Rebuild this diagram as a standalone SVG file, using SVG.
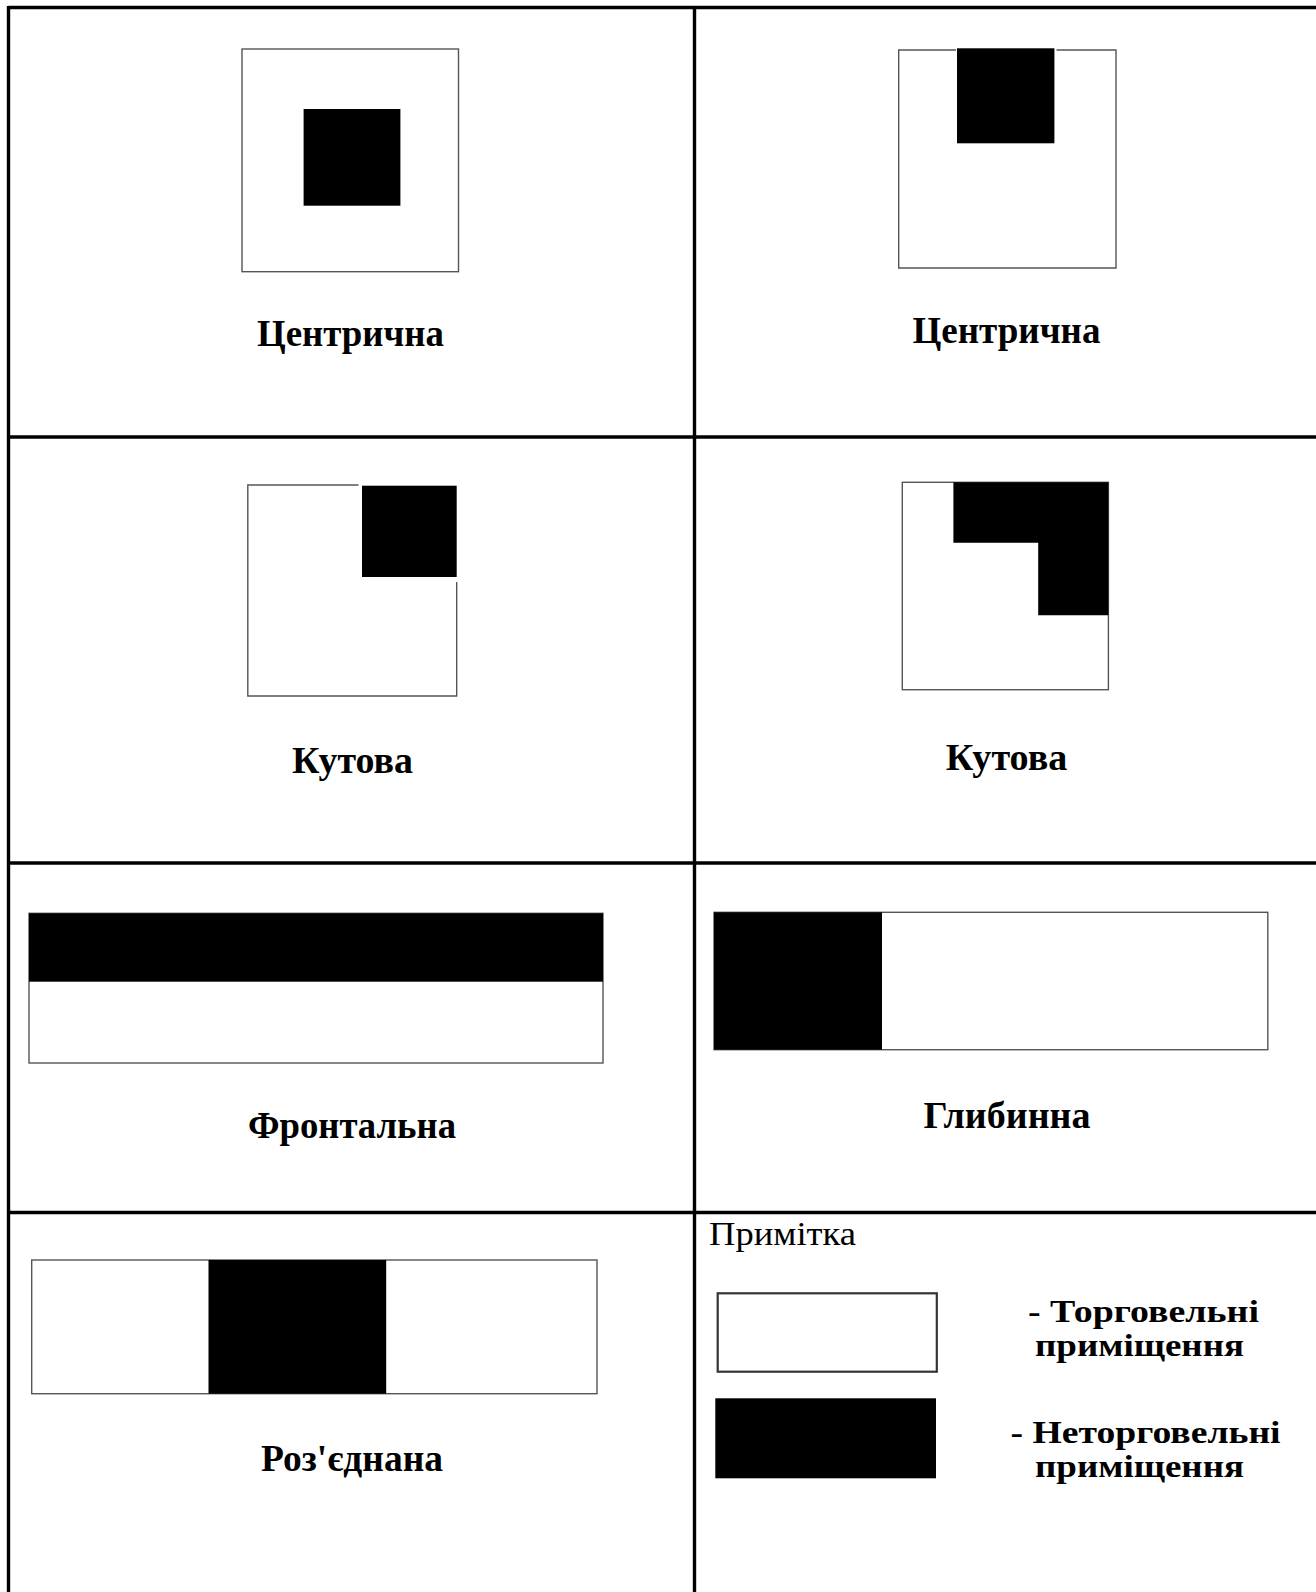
<svg xmlns="http://www.w3.org/2000/svg" width="1316" height="1592" viewBox="0 0 1316 1592">
<style>
.grid{stroke:#000;stroke-width:3.4;fill:none}
.room{fill:#fff;stroke:#555;stroke-width:1.4}
.wall{stroke:#555;stroke-width:1.4;fill:none}
.solid{fill:#000}
.lbl{font-family:"Liberation Serif","Times New Roman",serif;font-weight:bold;font-size:38px;fill:#000;text-anchor:middle}
.leg{font-family:"Liberation Serif","Times New Roman",serif;font-weight:bold;font-size:31px;fill:#000}
.note{font-family:"Liberation Serif","Times New Roman",serif;font-size:34px;fill:#000}
</style>
<rect width="1316" height="1592" fill="#fff"/>
<g id="grid">
<line class="grid" x1="8.5" y1="7.5" x2="1316" y2="7.5"/>
<line class="grid" x1="8.5" y1="6" x2="8.5" y2="1592"/>
<line class="grid" x1="694.5" y1="6" x2="694.5" y2="1592"/>
<line class="grid" x1="7" y1="437" x2="1316" y2="437"/>
<line class="grid" x1="7" y1="863" x2="1316" y2="863"/>
<line class="grid" x1="7" y1="1212.5" x2="1316" y2="1212.5"/>
</g>
<g id="centric-1">
<rect class="room" x="242" y="49" width="216.5" height="222.7"/>
<rect class="solid" x="303.6" y="109" width="96.8" height="96.7"/>
<text class="lbl" x="350.5" y="345.7" textLength="187" lengthAdjust="spacingAndGlyphs">Центрична</text>
</g>
<g id="centric-2">
<path class="wall" d="M956,50 H898.7 V268 H1116 V50 H1056.5"/>
<rect class="solid" x="957" y="48.3" width="97.4" height="95"/>
<text class="lbl" x="1006.5" y="343" textLength="188" lengthAdjust="spacingAndGlyphs">Центрична</text>
</g>
<g id="corner-1">
<path class="wall" d="M358.5,485 H247.8 V696 H456.7 V582"/>
<rect class="solid" x="362" y="485.7" width="94.7" height="91.3"/>
<text class="lbl" x="352.5" y="773" textLength="121" lengthAdjust="spacingAndGlyphs">Кутова</text>
</g>
<g id="corner-2">
<rect class="room" x="902.3" y="482.3" width="206.1" height="207.4"/>
<polygon class="solid" points="953.4,482.3 1108.4,482.3 1108.4,615.3 1038.2,615.3 1038.2,542.7 953.4,542.7"/>
<text class="lbl" x="1006.5" y="770" textLength="121.7" lengthAdjust="spacingAndGlyphs">Кутова</text>
</g>
<g id="frontal">
<rect class="room" x="29" y="913.3" width="574" height="149.7"/>
<rect class="solid" x="29" y="913.3" width="574" height="68.4"/>
<text class="lbl" x="352" y="1138" textLength="208" lengthAdjust="spacingAndGlyphs">Фронтальна</text>
</g>
<g id="deep">
<rect class="room" x="714" y="912.3" width="553.8" height="137.4"/>
<rect class="solid" x="714" y="912.3" width="168" height="137.4"/>
<text class="lbl" x="1007" y="1127.7" textLength="167" lengthAdjust="spacingAndGlyphs">Глибинна</text>
</g>
<g id="separated">
<rect class="room" x="31.7" y="1260" width="565.3" height="133.7"/>
<rect class="solid" x="208.5" y="1260" width="177.7" height="133.7"/>
<text class="lbl" x="352" y="1471" textLength="182" lengthAdjust="spacingAndGlyphs">Роз'єднана</text>
</g>
<g id="legend">
<text class="note" x="709" y="1245" textLength="147" lengthAdjust="spacingAndGlyphs">Примітка</text>
<rect x="717.7" y="1293.3" width="219.1" height="78.4" fill="#fff" stroke="#333" stroke-width="2.2"/>
<rect class="solid" x="715.3" y="1398.3" width="220.7" height="80"/>
<text class="leg" x="1028" y="1321.7" textLength="231" lengthAdjust="spacingAndGlyphs">- Торговельні</text>
<text class="leg" x="1035" y="1355.7" textLength="209" lengthAdjust="spacingAndGlyphs">приміщення</text>
<text class="leg" x="1010.6" y="1443.3" textLength="270" lengthAdjust="spacingAndGlyphs">- Неторговельні</text>
<text class="leg" x="1035" y="1476.7" textLength="209" lengthAdjust="spacingAndGlyphs">приміщення</text>
</g>
</svg>
